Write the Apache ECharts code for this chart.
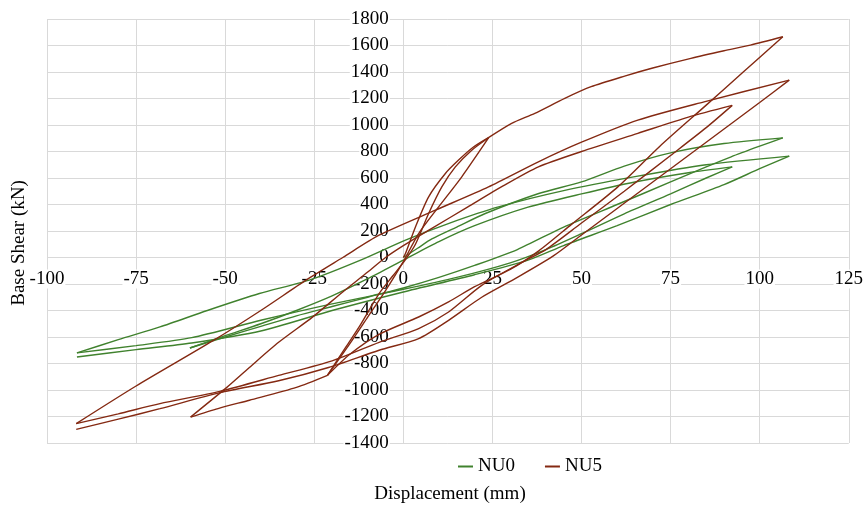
<!DOCTYPE html>
<html>
<head>
<meta charset="utf-8">
<script src="https://cdn.jsdelivr.net/npm/echarts@6/dist/echarts.min.js"></script>
<style>
html,body{margin:0;padding:0;background:#fff;}
#chart{width:867px;height:506px;}
</style>
</head>
<body>
<div id="chart"></div>
<script>
// ---- Axis ticks ----
const xTicks = [-100, -75, -50, -25, 0, 25, 50, 75, 100, 125];
const yTicks = [-1400, -1200, -1000, -800, -600, -400, -200, 0, 200, 400, 600, 800, 1000, 1200, 1400, 1600, 1800];

// ---- NU0 branches (displacement mm, base shear kN), in loading order ----
const nu0_virgin  = [[0,0],[4,70],[8,140],[15,230],[23,332],[38,483],[50,571],[62,690],[75,790],[90,860],[106.5,903]];
const nu0_unload1 = [[106.5,903],[100,840],[92,760],[85,684],[75,570],[60,400],[45,230],[32,60],[20,-60],[10,-150],[0,-230],[-10,-300],[-20,-370],[-30,-440],[-40,-520],[-50,-600],[-59.9,-683]];
const nu0_reload1 = [[-59.9,-683],[-50,-590],[-40,-500],[-30,-400],[-20,-290],[-10,-160],[0,-20],[10,120],[20,240],[35,380],[50,480],[65,570],[80,640],[92.3,684]];
const nu0_unload2 = [[92.3,684],[85,600],[75,480],[62,330],[50,180],[40,60],[30,-40],[15,-150],[0,-240],[-20,-350],[-40,-474],[-59.4,-605],[-75,-665],[-91.6,-720]];
const nu0_reload2 = [[-91.6,-720],[-80,-620],[-68.3,-524],[-55,-400],[-40.4,-272],[-26.4,-171],[-12,-20],[0.6,131],[13,260],[26.7,382],[45,505],[65,610],[85,700],[108.3,765]];
const nu0_unload3 = [[108.3,765],[100,670],[90,550],[75,400],[60,240],[45,90],[35,-20],[20,-130],[0,-260],[-20,-400],[-40,-555],[-59.4,-645],[-75,-695],[-91.6,-751]];

// ---- NU5 branches ----
const nu5_virgin       = [[0,0],[0.6,30],[3.4,231],[7.1,458],[11.8,634],[15.5,735],[19.5,830],[24,906]];
const nu5_small_unload = [[24,906],[16.4,609],[9.9,382],[4.3,181],[-0.3,-45],[-5,-250],[-10,-450],[-15,-650],[-21.3,-889]];
const nu5_small_reload = [[-21.3,-889],[-16.1,-675],[-12.4,-524],[-6.8,-272],[-3,-140],[0.5,-20],[3.4,100],[7.1,332],[10.8,533],[14.6,684],[19.2,810],[24,906]];
const nu5_envelope     = [[24,906],[30.4,1012],[36.9,1088],[45.3,1201],[52.7,1289],[62.1,1369],[70,1430],[80.7,1503],[90,1560],[97.4,1603],[106.5,1666]];
const nu5_unload1      = [[106.5,1666],[95,1390],[85,1150],[72,840],[60.2,533],[47.2,250],[38,50],[30,-90],[20,-220],[12.7,-335],[4.3,-449],[-6.8,-580],[-15,-730],[-21.3,-889]];
const nu5_neg_env      = [[-21.3,-889],[-30,-980],[-43.2,-1077],[-52,-1140],[-59.7,-1204]];
const nu5_reload1      = [[-59.7,-1204],[-49.7,-984],[-43.2,-830],[-35,-640],[-25.5,-450],[-17,-260],[-10,-110],[-5,0],[0,90],[8,220],[18,380],[28,540],[37.9,684],[50,800],[65.8,937],[80,1060],[92.3,1148]];
const nu5_unload2      = [[92.3,1148],[85,980],[75,770],[62,500],[50,260],[40,60],[33,-40],[22,-210],[12.7,-411],[4.3,-536],[-6.8,-640],[-20,-780],[-35,-890],[-51.5,-1010],[-68.3,-1103],[-80,-1180],[-91.8,-1254]];
const nu5_reload2      = [[-91.8,-1254],[-75,-970],[-53.4,-628],[-40,-400],[-27.3,-171],[-17,0],[-6.8,168],[9,357],[23.9,533],[37.9,722],[50,870],[65.8,1037],[84.4,1175],[108.3,1339]];
const nu5_unload3      = [[108.3,1339],[100,1170],[90,970],[80,770],[70,570],[60,370],[50,170],[42,10],[32,-150],[22,-300],[12.7,-474],[4.3,-612],[-6.8,-700],[-21,-830],[-35,-930],[-51.5,-1020],[-68.3,-1141],[-80,-1220],[-91.8,-1297]];

const NU0_BRANCHES = [nu0_virgin, nu0_unload1, nu0_reload1, nu0_unload2, nu0_reload2, nu0_unload3];
const NU5_BRANCHES = [nu5_virgin, nu5_small_unload, nu5_small_reload, nu5_envelope, nu5_unload1, nu5_neg_env, nu5_reload1, nu5_unload2, nu5_reload2, nu5_unload3];

const FONT = "'Liberation Serif', 'DejaVu Serif', serif";
const GREEN = '#40822e';
const RED = '#842912';
const GRID = '#d9d9d9';

const W = 867, H = 506;
const G = {left: 47, right: 15, top: 19, bottom: 63};
const xMin = xTicks[0], xMax = xTicks[xTicks.length - 1];
const yMin = yTicks[0], yMax = yTicks[yTicks.length - 1];
const gw = W - G.left - G.right, gh = H - G.top - G.bottom;
// shift the axes so they cross at zero (axis layout only)
const yAxisOffset = -gw * (0 - xMin) / (xMax - xMin);
const xAxisOffset = -gh * (0 - yMin) / (yMax - yMin);

function branchSeries(name, color, branches) {
  return branches.map(b => ({
    name: name, type: 'line', data: b, symbol: 'none', smooth: 0.25,
    lineStyle: {color: color, width: 1.4}, itemStyle: {color: color}
  }));
}

const chart = echarts.init(document.getElementById('chart'), null, {renderer: 'canvas'});
chart.setOption({
  animation: false,
  backgroundColor: '#fff',
  grid: Object.assign({containLabel: false}, G),
  xAxis: {
    type: 'value',
    min: xMin, max: xMax, interval: 25,
    offset: xAxisOffset,
    axisLine: {show: false, onZero: false},
    axisTick: {show: false},
    splitLine: {show: true, lineStyle: {color: GRID, width: 1}},
    axisLabel: {fontFamily: FONT, fontSize: 19, color: '#000', margin: 12,
      backgroundColor: '#fff', padding: [0, 1], showMinLabel: true, showMaxLabel: true,
      formatter: v => String(v)}
  },
  yAxis: {
    type: 'value',
    min: yMin, max: yMax, interval: 200,
    offset: yAxisOffset,
    axisLine: {show: false, onZero: false},
    axisTick: {show: false},
    splitLine: {show: true, lineStyle: {color: GRID, width: 1}},
    axisLabel: {fontFamily: FONT, fontSize: 19, color: '#000', margin: 15,
      backgroundColor: '#fff', padding: [0, 1], showMinLabel: true, showMaxLabel: true,
      formatter: v => String(v)}
  },
  legend: {
    left: 453, top: 452,
    itemWidth: 15, itemHeight: 2, itemGap: 30,
    icon: 'rect',
    textStyle: {fontFamily: FONT, fontSize: 19, color: '#000'},
    data: ['NU0', 'NU5']
  },
  graphic: [
    {type: 'text', x: 450, y: 494, style: {text: 'Displacement (mm)', font: "19px 'Liberation Serif'", fill: '#000', textAlign: 'center', textVerticalAlign: 'middle'}},
    {type: 'text', x: 19, y: 243, rotation: Math.PI / 2, style: {text: 'Base Shear (kN)', font: "19px 'Liberation Serif'", fill: '#000', textAlign: 'center', textVerticalAlign: 'middle'}}
  ],
  series: [].concat(
    branchSeries('NU0', GREEN, NU0_BRANCHES),
    branchSeries('NU5', RED, NU5_BRANCHES)
  )
});
</script>
</body>
</html>
